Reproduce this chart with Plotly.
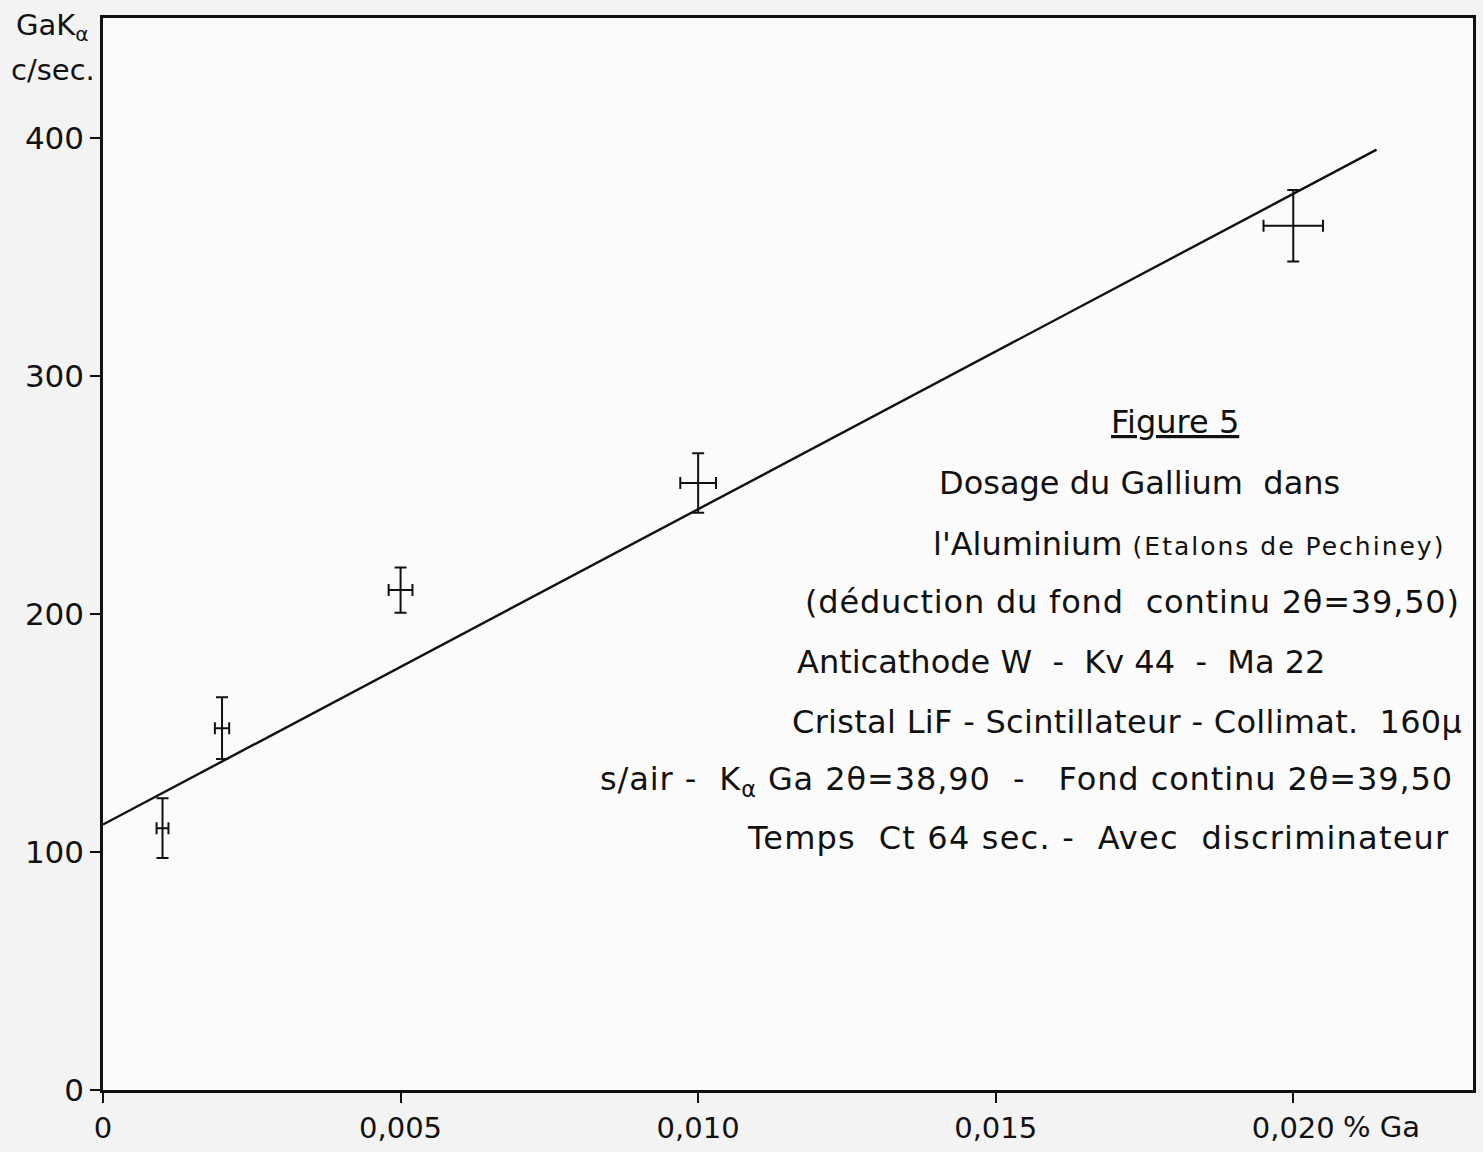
import plotly.graph_objects as go

# ---- data ----
ga_percent = [0.001, 0.002, 0.005, 0.010, 0.020]
counts = [110, 152, 210, 255, 363]
counts_err = [12.5, 13, 9.5, 12.5, 15]
ga_err = [0.0001, 0.00012, 0.0002, 0.0003, 0.0005]

fit_x = [0.0, 0.0214]
fit_y = [111.5, 395]

x_tickvals = [0, 0.005, 0.010, 0.015, 0.020]
x_ticktext = ["0", "0,005", "0,010", "0,015", "0,020"]
y_tickvals = [0, 100, 200, 300, 400]
y_ticktext = ["0", "100", "200", "300", "400"]

W, H = 1483, 1152
ML, MR, MT, MB = 103, 7, 18, 60
PW, PH = W - ML - MR, H - MT - MB

def px(xp):
    return (xp - ML) / PW

def py(yp):
    return 1 - (yp - MT) / PH

FONT = "DejaVu Sans"
INK = "#111"

fig = go.Figure()
fig.add_trace(go.Scatter(
    x=fit_x, y=fit_y, mode="lines",
    line=dict(color=INK, width=2.4), showlegend=False, hoverinfo="skip"))
fig.add_trace(go.Scatter(
    x=ga_percent, y=counts, mode="markers",
    marker=dict(size=1, color=INK),
    error_y=dict(type="data", array=counts_err, color=INK, thickness=2, width=6),
    error_x=dict(type="data", array=ga_err, color=INK, thickness=2, width=6),
    showlegend=False))

def sp(t, ls):
    return "<span style='letter-spacing:%spx'>%s</span>" % (ls, t)

lines = [
    ("<u>Figure 5</u>", 1177, 423),
    ("Dosage du Gallium  dans", 1142, 484),
    ("l'Aluminium <span style='font-size:25px;letter-spacing:2px'>(Etalons de Pechiney)</span>", 1191, 545),
    (sp("(déduction du fond  continu 2θ=39,50)", 0.8), 1135, 603),
    ("Anticathode W  -  Kv 44  -  Ma 22", 1063, 663),
    (sp("Cristal LiF - Scintillateur - Collimat.  160μ", 0.3), 1129, 723),
    (sp("s/air -  K<sub>α</sub> Ga 2θ=38,90  -   Fond continu 2θ=39,50", 0.9), 1029, 782),
    (sp("Temps  Ct 64 sec. -  Avec  discriminateur", 1.2), 1100, 840),
]
for txt, cx, cy in lines:
    fig.add_annotation(text=txt, x=px(cx), y=py(cy), xref="paper", yref="paper",
                       xanchor="center", yanchor="middle", showarrow=False,
                       font=dict(family=FONT, size=32, color=INK))

fig.add_annotation(text="GaK<sub>α</sub>", x=px(14), y=py(27), xref="paper", yref="paper",
                   xanchor="left", yanchor="middle", showarrow=False,
                   font=dict(family=FONT, size=29, color=INK))
fig.add_annotation(text="c/sec.", x=px(9), y=py(70), xref="paper", yref="paper",
                   xanchor="left", yanchor="middle", showarrow=False,
                   font=dict(family=FONT, size=29, color=INK))
fig.add_annotation(text="% Ga", x=px(1344), y=py(1129), xref="paper", yref="paper",
                   xanchor="left", yanchor="middle", showarrow=False,
                   font=dict(family=FONT, size=29, color=INK))

fig.update_xaxes(range=[0, 0.02302], tickvals=x_tickvals, ticktext=x_ticktext,
                 ticks="outside", ticklen=10, tickwidth=2, tickcolor=INK,
                 showline=True, linecolor=INK, linewidth=2.5, mirror=True,
                 showgrid=False, zeroline=False,
                 tickfont=dict(family=FONT, size=29, color=INK))
fig.update_yaxes(range=[0, 450.3], tickvals=y_tickvals, ticktext=y_ticktext,
                 ticks="outside", ticklen=10, tickwidth=2, tickcolor=INK,
                 showline=True, linecolor=INK, linewidth=2.5, mirror=True,
                 showgrid=False, zeroline=False,
                 tickfont=dict(family=FONT, size=31, color=INK))

fig.update_layout(width=W, height=H,
                  margin=dict(l=ML, r=MR, t=MT, b=MB, pad=0),
                  paper_bgcolor="#f3f3f3", plot_bgcolor="#fbfbfb",
                  showlegend=False)

fig.write_html("out.html", config={"displayModeBar": False},
               post_script="document.body.style.margin='0px';document.body.style.overflow='hidden';")
